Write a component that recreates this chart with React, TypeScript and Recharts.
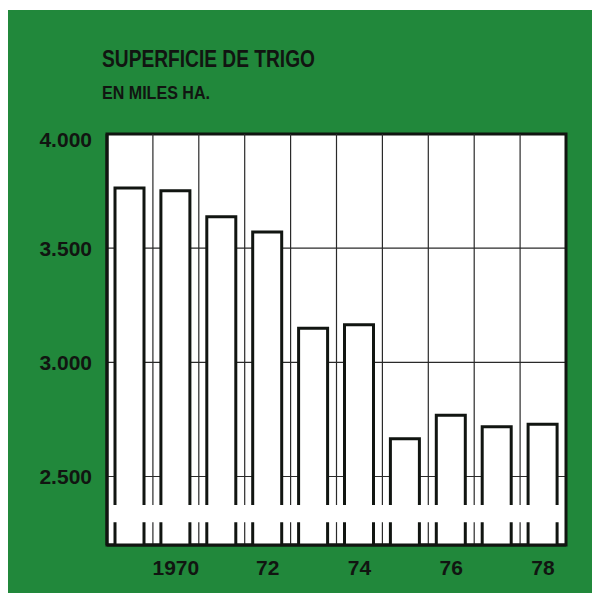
import React from 'react';
import {
  BarChart,
  Bar,
  XAxis,
  YAxis,
  CartesianGrid,
  ReferenceLine,
  ReferenceArea,
} from 'recharts';

const YEARS = [1969, 1970, 1971, 1972, 1973, 1974, 1975, 1976, 1977, 1978];
const AREA = [3763, 3752, 3638, 3571, 3149, 3165, 2665, 2768, 2718, 2729];
const X_LABELS = ['', '1970', '', '72', '', '74', '', '76', '', '78'];
const Y_TICKS = [2500, 3000, 3500, 4000];
const Y_DOMAIN: [number, number] = [2200, 4000];
const AXIS_BREAK: [number, number] = [2300, 2375];

const TITLE = 'SUPERFICIE DE TRIGO';
const SUBTITLE = 'EN MILES HA.';

const GREEN = '#21883b';
const INK = '#111511';
const FONT = '"Liberation Sans", Arial, sans-serif';

const data = YEARS.map((year, i) => ({
  year: String(year),
  area: AREA[i],
  label: X_LABELS[i],
}));

const fmtThousands = (v: number) =>
  `${Math.floor(v / 1000)}.${String(v % 1000).padStart(3, '0')}`;

function BrokenBar(props: any) {
  const { x, y, width, height, payload } = props;
  if (height == null || height <= 0) return null;
  const value = payload.area;
  const bottom = y + height;
  const ppu = height / (value - Y_DOMAIN[0]);
  const gLo = bottom - (AXIS_BREAK[0] - Y_DOMAIN[0]) * ppu;
  const gHi = bottom - (AXIS_BREAK[1] - Y_DOMAIN[0]) * ppu;
  const r = x + width;
  const d = `M${x},${bottom} L${x},${gLo} M${x},${gHi} L${x},${y} L${r},${y} L${r},${gHi} M${r},${gLo} L${r},${bottom}`;
  return (
    <g>
      <rect x={x} y={y} width={width} height={height} fill="#ffffff" />
      <path d={d} fill="none" stroke={INK} strokeWidth={3} strokeLinejoin="miter" />
    </g>
  );
}

function YTick(props: any) {
  const { x, y, payload } = props;
  const v = payload.value as number;
  // the top label sits a little below its line in the original print
  const shift = v === Y_DOMAIN[1] ? 6 : 0;
  return (
    <text
      x={x}
      y={y + shift}
      dy="0.355em"
      textAnchor="end"
      fill={INK}
      fontSize={21}
      fontWeight={700}
      fontFamily={FONT}
    >
      {fmtThousands(v)}
    </text>
  );
}

export default function App() {
  const tickStyle = { fill: INK, fontSize: 21, fontWeight: 700, fontFamily: FONT };
  return (
    <div
      style={{
        position: 'fixed',
        left: 8,
        top: 10,
        right: 0,
        height: 583,
        background: GREEN,
        overflow: 'hidden',
      }}
    >
      <BarChart
        width={584}
        height={583}
        data={data}
        margin={{ top: 124, right: 26, left: 0, bottom: 0 }}
      >
        <CartesianGrid vertical={false} fill="#ffffff" stroke="#2a2a2a" strokeWidth={1.2} />
        {YEARS.slice(1).map((yr) => (
          <ReferenceLine
            key={`a${yr}`}
            segment={[
              { x: String(yr), y: Y_DOMAIN[0] },
              { x: String(yr), y: AXIS_BREAK[0] },
            ]}
            position="start"
            stroke="#2a2a2a"
            strokeWidth={1.2}
          />
        ))}
        {YEARS.slice(1).map((yr) => (
          <ReferenceLine
            key={`b${yr}`}
            segment={[
              { x: String(yr), y: AXIS_BREAK[1] },
              { x: String(yr), y: Y_DOMAIN[1] },
            ]}
            position="start"
            stroke="#2a2a2a"
            strokeWidth={1.2}
          />
        ))}
        <XAxis
          dataKey="year"
          type="category"
          height={48}
          interval={0}
          tickLine={false}
          tickSize={0}
          tickMargin={15}
          axisLine={{ stroke: INK, strokeWidth: 3 }}
          tick={tickStyle}
          tickFormatter={(_v: any, i: number) => X_LABELS[i] ?? ''}
        />
        <YAxis
          type="number"
          width={99}
          domain={Y_DOMAIN}
          ticks={Y_TICKS}
          tickLine={false}
          tickSize={0}
          tickMargin={15}
          axisLine={{ stroke: INK, strokeWidth: 3 }}
          tick={<YTick />}
        />
        <Bar
          dataKey="area"
          barSize={29}
          shape={BrokenBar}
          isAnimationActive={false}
        />
        <ReferenceArea
          y1={Y_DOMAIN[0]}
          y2={Y_DOMAIN[1]}
          fill="none"
          fillOpacity={0}
          stroke={INK}
          strokeWidth={3}
        />
      </BarChart>
      <svg
        width={584}
        height={120}
        style={{ position: 'absolute', left: 0, top: 0, pointerEvents: 'none' }}
      >
        <text
          x={94}
          y={57}
          fontFamily={FONT}
          fontWeight={700}
          fontSize={23}
          fill={INK}
          textLength={213}
          lengthAdjust="spacingAndGlyphs"
        >
          {TITLE}
        </text>
        <text
          x={94}
          y={89}
          fontFamily={FONT}
          fontWeight={700}
          fontSize={19}
          fill={INK}
          textLength={108}
          lengthAdjust="spacingAndGlyphs"
        >
          {SUBTITLE}
        </text>
      </svg>
    </div>
  );
}
